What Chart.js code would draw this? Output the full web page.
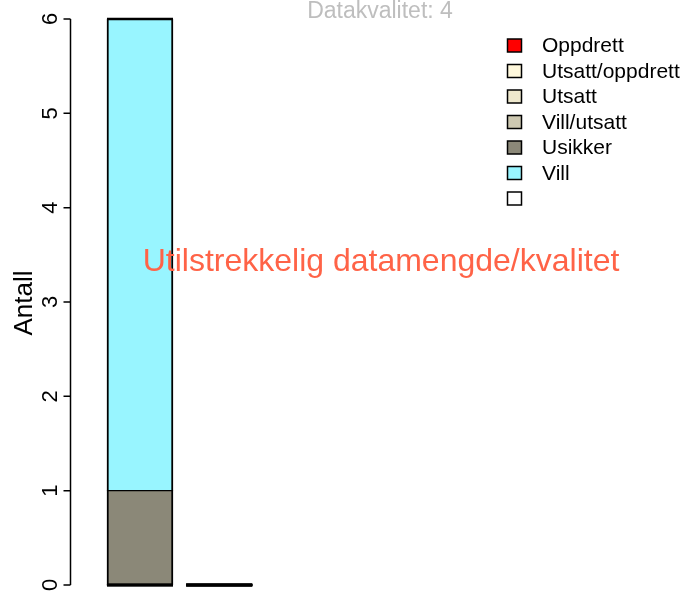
<!DOCTYPE html>
<html>
<head>
<meta charset="utf-8">
<script src="https://cdn.jsdelivr.net/npm/chart.js@4/dist/chart.umd.min.js"></script>
<style>
  html, body { margin: 0; padding: 0; background: #fff; }
  canvas { display: block; }
</style>
</head>
<body>
<canvas id="grafAntall" width="684" height="591"></canvas>
<script>
// to søyler, stablet etter opphav
const kategorier = ['Periode 1', 'Periode 2'];
const oppdrett = [0, 0];
const utsattOppdrett = [0, 0];
const utsatt = [0, 0];
const villUtsatt = [0, 0];
const usikker = [1, 0];
const vill = [5, 0];
const ukjent = [0, 0];
const yTicks = [0, 1, 2, 3, 4, 5, 6];
const tittel = 'Datakvalitet: 4';
const melding = 'Utilstrekkelig datamengde/kvalitet';
const yTittel = 'Antall';

const FONT = "'Liberation Sans', Arial, Helvetica, sans-serif";

const serier = [
  { label: 'Oppdrett', data: oppdrett, farge: '#FF0000' },
  { label: 'Utsatt/oppdrett', data: utsattOppdrett, farge: '#FFF8DC' },
  { label: 'Utsatt', data: utsatt, farge: '#EEE8CD' },
  { label: 'Vill/utsatt', data: villUtsatt, farge: '#CDC8B1' },
  { label: 'Usikker', data: usikker, farge: '#8B8878' },
  { label: 'Vill', data: vill, farge: '#98F5FF' },
  { label: '', data: ukjent, farge: '#FFFFFF' }
];

// barplot-plassering: bredde 1, mellomrom 0.2
const senter = i => 0.7 + 1.2 * i;

// akse, tekst og tegnforklaring tegnes for hånd
const tegnPynt = {
  id: 'tegnPynt',
  afterDatasetsDraw(chart) {
    const c = chart.ctx;
    const y = chart.scales.y;
    const area = chart.chartArea;

    // søyler med høyde 0 vises som en strek
    c.save();
    c.strokeStyle = '#000';
    c.lineWidth = 2.5;
    chart.data.datasets.forEach((ds, i) => {
      chart.getDatasetMeta(i).data.forEach(el => {
        const p = el.getProps(['x', 'y', 'base', 'width'], true);
        if (Math.abs(p.y - p.base) < 0.5) {
          c.beginPath();
          c.moveTo(p.x - p.width / 2, p.y);
          c.lineTo(p.x + p.width / 2, p.y);
          c.stroke();
        }
      });
    });
    c.restore();

    // y-akse
    const ax = area.left + 0.5;
    c.save();
    c.strokeStyle = '#000';
    c.lineWidth = 1.5;
    c.beginPath();
    c.moveTo(ax, y.getPixelForValue(yTicks[0]));
    c.lineTo(ax, y.getPixelForValue(yTicks[yTicks.length - 1]));
    yTicks.forEach(v => {
      const py = y.getPixelForValue(v);
      c.moveTo(ax, py);
      c.lineTo(ax - 7, py);
    });
    c.stroke();

    c.fillStyle = '#000';
    c.textAlign = 'center';
    c.textBaseline = 'alphabetic';
    c.font = '22px ' + FONT;
    yTicks.forEach(v => {
      c.save();
      c.translate(57, y.getPixelForValue(v));
      c.rotate(-Math.PI / 2);
      c.fillText(String(v), 0, 0);
      c.restore();
    });

    c.font = '26px ' + FONT;
    c.save();
    c.translate(32, 303);
    c.rotate(-Math.PI / 2);
    c.fillText(yTittel, 0, 0);
    c.restore();

    // overskrift og melding
    c.fillStyle = '#BEBEBE';
    c.font = '23px ' + FONT;
    c.fillText(tittel, 380, 18);

    c.fillStyle = '#FF6347';
    c.font = '32px ' + FONT;
    c.fillText(melding, 381, 271);

    // tegnforklaring
    c.textAlign = 'left';
    c.textBaseline = 'middle';
    c.font = '21px ' + FONT;
    c.lineWidth = 1.5;
    serier.forEach((s, i) => {
      const ry = 45.5 + i * 25.5;
      c.fillStyle = s.farge;
      c.fillRect(507.5, ry - 6.5, 14, 13);
      c.strokeStyle = '#000';
      c.strokeRect(507.5, ry - 6.5, 14, 13);
      c.fillStyle = '#000';
      c.fillText(s.label, 542, ry + 1);
    });
    c.restore();
  }
};

const ctx = document.getElementById('grafAntall').getContext('2d');

const graf = new Chart(ctx, {
  type: 'bar',
  data: {
    labels: kategorier,
    datasets: serier.map(s => ({
      label: s.label,
      data: s.data.map((v, i) => ({ x: senter(i), y: v })),
      backgroundColor: s.farge,
      borderColor: '#000000',
      borderWidth: { left: 2, right: 2, top: 1, bottom: 1 },
      borderSkipped: false,
      barThickness: 'flex',
      barPercentage: 1 / 1.2,
      categoryPercentage: 1
    }))
  },
  options: {
    responsive: false,
    animation: false,
    devicePixelRatio: 1,
    layout: { padding: { left: 70, top: 19, right: 0, bottom: 6 } },
    scales: {
      x: { type: 'linear', display: false, offset: false, stacked: true, min: -0.36, max: 8.94 },
      y: { display: false, stacked: true, min: 0, max: 6 }
    },
    plugins: {
      legend: { display: false },
      title: { display: false },
      tooltip: { enabled: false }
    }
  },
  plugins: [tegnPynt]
});
</script>
</body>
</html>
